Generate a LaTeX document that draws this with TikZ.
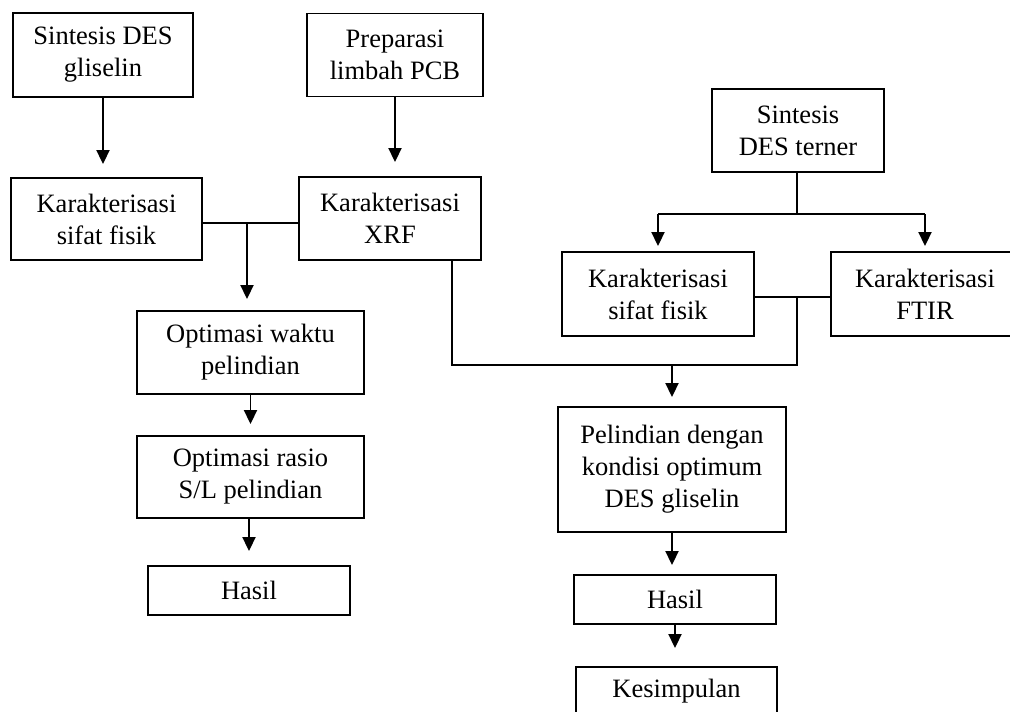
\documentclass[tikz,border=0pt]{standalone}
\usepackage{fontspec}
\setmainfont{Liberation Serif}
\usetikzlibrary{arrows.meta}

\tikzset{
  kotak/.style={draw, line width=1.9pt, align=center, inner sep=0pt,
    font=\fontsize{26.5}{32}\selectfont},
  garis/.style={line width=1.9pt},
  panah/.style={line width=1.9pt, -{Triangle[width=13pt,length=14pt]}, shorten >=11pt}
}

\begin{document}
\begin{tikzpicture}[x=1pt, y=-1pt]
                \useasboundingbox (0,0) rectangle (1010,712);

                \node[kotak, minimum width=180pt, minimum height=84pt] (sintesisGli) at (103,55) {Sintesis DES\\gliselin};
                \node[kotak, minimum width=176pt, minimum height=83pt] (preparasi) at (395,55) {Preparasi\\limbah PCB};
                \node[kotak, minimum width=191pt, minimum height=82pt] (fisikKiri) at (106.5,219) {Karakterisasi\\sifat fisik};
                \node[kotak, minimum width=182pt, minimum height=83pt] (xrf) at (390,218.5) {Karakterisasi\\XRF};
                \node[kotak, minimum width=227pt, minimum height=83pt] (optWaktu) at (250.5,352.5) {Optimasi waktu\\pelindian};
                \node[kotak, minimum width=227pt, minimum height=82pt] (optRasio) at (250.5,477) {Optimasi rasio\\S/L pelindian};
                \node[kotak, minimum width=202pt, minimum height=49pt] (hasilKiri) at (249,590.5) {Hasil};

                \node[kotak, minimum width=172pt, minimum height=83pt] (sintesisTer) at (798,130.5) {Sintesis\\DES terner};
                \node[kotak, minimum width=192pt, minimum height=84pt] (fisikKanan) at (658,294) {Karakterisasi\\sifat fisik};
                \node[kotak, minimum width=188pt, minimum height=84pt] (ftir) at (925,294) {Karakterisasi\\FTIR};
                \node[kotak, minimum width=228pt, minimum height=125pt] (pelindian) at (672,469.5) {Pelindian dengan\\kondisi optimum\\DES gliselin};
                \node[kotak, minimum width=202pt, minimum height=49pt] (hasilKanan) at (675,599.5) {Hasil};
                \node[kotak, minimum width=201pt, minimum height=49pt] (kesimpulan) at (676.5,691.5) {Kesimpulan};

                % titik cabang
                \coordinate (cabangKiri) at (247,223);
                \coordinate (cabangAtas) at (797,214);
                \coordinate (cabangFtir) at (925,214);
                \coordinate (cabangKanan) at (797,297);
                \coordinate (belokXrf) at (452,365);
                \coordinate (belokKanan) at (797,365);

                \draw[panah, shorten >=13pt] (sintesisGli) -- (sintesisGli |- fisikKiri.north);
                \draw[panah, shorten >=14pt] (preparasi) -- (preparasi |- xrf.north);
                \draw[garis] (fisikKiri.east |- cabangKiri) -- (xrf.west |- cabangKiri);
                \draw[panah] (cabangKiri) -- (cabangKiri |- optWaktu.north);
                \draw[panah] (optWaktu) -- (optRasio);
                \draw[panah, shorten >=14pt] (optRasio.south -| hasilKiri) -- (hasilKiri.north);

                \draw[garis] (sintesisTer.south -| cabangAtas) -- (cabangAtas);
                \draw[garis] (fisikKanan.north |- cabangAtas) -- (cabangFtir);
                \draw[panah, shorten >=5pt] (fisikKanan.north |- cabangAtas) -- (fisikKanan.north);
                \draw[panah, shorten >=5pt] (cabangFtir) -- (ftir.north);
                \draw[garis] (fisikKanan.east |- cabangKanan) -- (ftir.west |- cabangKanan);
                \draw[garis] (xrf.south -| belokXrf) -- (belokXrf) -- (belokKanan) -- (cabangKanan);
                \draw[panah, shorten >=9pt] (pelindian.north |- belokXrf) -- (pelindian.north);
                \draw[panah, shorten >=9pt] (pelindian.south) -- (pelindian.south |- hasilKanan.north);
                \draw[panah, shorten >=18pt] (hasilKanan.south) -- (hasilKanan.south |- kesimpulan.north);
            \end{tikzpicture}
\end{document}
